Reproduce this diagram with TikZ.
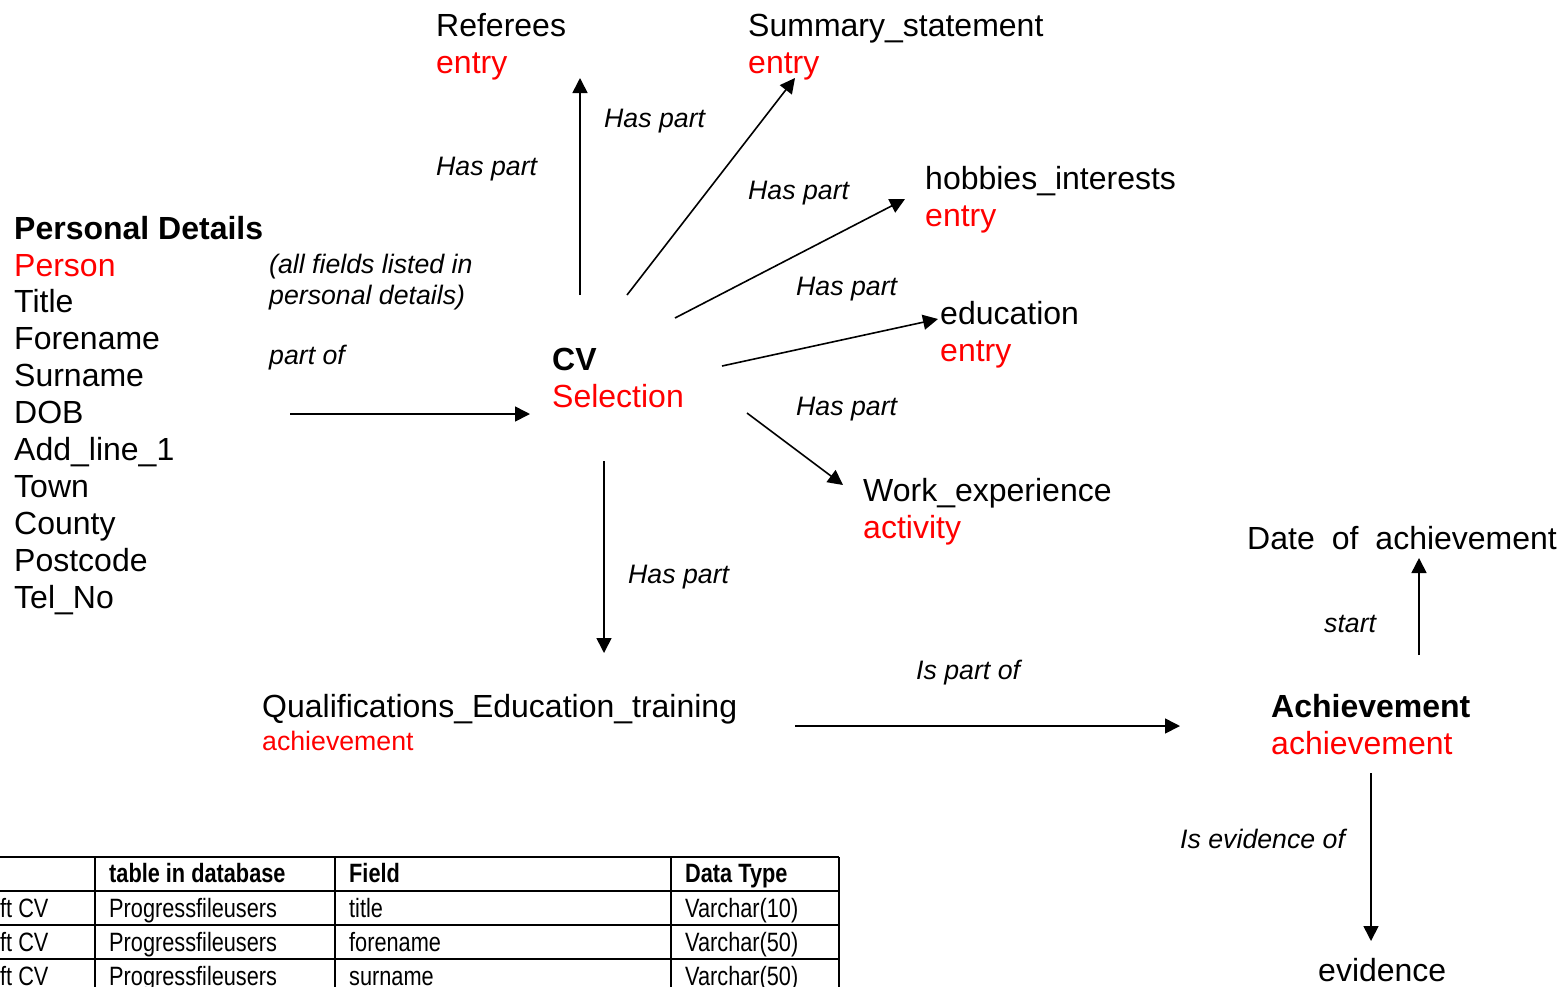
\documentclass[tikz,border=0pt]{standalone}
\usepackage{fontspec}
\setmainfont{Liberation Sans}
\newfontfamily\narrowfont[FakeStretch=0.82]{Liberation Sans}
\usetikzlibrary{arrows.meta}

\begin{document}
\begin{tikzpicture}
  [x=1pt,y=-1pt,
    every node/.style={inner sep=0pt,anchor=base west},
    lbl/.style={font=\fontsize{32}{37}\selectfont},
    head/.style={font=\fontsize{32}{37}\selectfont\bfseries},
    typ/.style={lbl,text=red},
    smalltyp/.style={font=\fontsize{26.7}{31}\selectfont,text=red},
    rel/.style={font=\fontsize{26.7}{31}\selectfont\itshape},
    cell/.style={font=\fontsize{26.5}{31}\selectfont\narrowfont},
    cellhead/.style={font=\fontsize{26.5}{31}\selectfont\narrowfont\bfseries},
    arr/.style={-{Triangle[length=15pt,width=15pt]},line width=1.6pt},
    grid/.style={line width=2pt},
  ]
  \useasboundingbox (0,0) rectangle (1568,986);

  % central entity
  \node[head] (cv) at (552,370) {CV};
  \node[typ] (cvt) at (552,407) {Selection};

  % parts of the CV
  \node[lbl] (ref) at (436,36) {Referees};
  \node[typ] (reft) at (436,73) {entry};
  \node[lbl] (sum) at (748,36) {Summary\_statement};
  \node[typ] (sumt) at (748,73) {entry};
  \node[lbl] (hob) at (925,189) {hobbies\_interests};
  \node[typ] (hobt) at (925,226) {entry};
  \node[lbl] (edu) at (940,324) {education};
  \node[typ] (edut) at (940,361) {entry};
  \node[lbl] (work) at (863,501) {Work\_experience};
  \node[typ] (workt) at (863,538) {activity};
  \node[lbl] (qual) at (262,717) {Qualifications\_Education\_training};
  \node[smalltyp] (qualt) at (262,750) {achievement};

  % personal details
  \node[head] (pd) at (14,239) {Personal Details};
  \node[typ] (pdt) at (14,276) {Person};
  \foreach \f [count=\i] in {Title,Forename,Surname,DOB,Add\_line\_1,Town,County,Postcode,Tel\_No}
    \node[lbl] (pd\i) at (14,276+36.9*\i) {\f};
  \node[rel] (pdnote1) at (269,273) {(all fields listed in};
  \node[rel] (pdnote2) at (269,304) {personal details)};
  \node[rel] (partof) at (269,364) {part of};

  % achievement
  \node[head] (ach) at (1271,717) {Achievement};
  \node[typ] (acht) at (1271,754) {achievement};
  \node[lbl] (date) at (1247,549) {Date\hspace{17pt}of\hspace{17pt}achievement};
  \node[lbl] (evid) at (1318,981) {evidence};

  % relation labels
  \node[rel] (hp1) at (436,175) {Has part};
  \node[rel] (hp2) at (604,127) {Has part};
  \node[rel] (hp3) at (748,199) {Has part};
  \node[rel] (hp4) at (796,295) {Has part};
  \node[rel] (hp5) at (796,415) {Has part};
  \node[rel] (hp6) at (628,583) {Has part};
  \node[rel] (ispart) at (916,679) {Is part of};
  \node[rel] (start) at (1324,632) {start};
  \node[rel] (isev) at (1180,848) {Is evidence of};

  % arrow ends
  \coordinate (cv-ref) at (580,295);   \coordinate (ref-in) at (580,78);
  \coordinate (cv-sum) at (627,295);   \coordinate (sum-in) at (795,78);
  \coordinate (cv-hob) at (675,318);   \coordinate (hob-in) at (905,199);
  \coordinate (cv-edu) at (722,366);   \coordinate (edu-in) at (938,319);
  \coordinate (cv-work) at (747,413);  \coordinate (work-in) at (843,485);
  \coordinate (cv-qual) at (604,461);  \coordinate (qual-in) at (604,653);
  \coordinate (pd-out) at (290,414);   \coordinate (cv-in) at (530,414);
  \coordinate (qual-out) at (795,726); \coordinate (ach-in) at (1180,726);
  \coordinate (ach-up) at (1419,655);  \coordinate (date-in) at (1419,558);
  \coordinate (ach-down) at (1371,773); \coordinate (evid-in) at (1371,941);

  \draw[arr] (cv-ref) -- (ref-in);
  \draw[arr] (cv-sum) -- (sum-in);
  \draw[arr] (cv-hob) -- (hob-in);
  \draw[arr] (cv-edu) -- (edu-in);
  \draw[arr] (cv-work) -- (work-in);
  \draw[arr] (cv-qual) -- (qual-in);
  \draw[arr] (pd-out) -- (cv-in);
  \draw[arr] (qual-out) -- (ach-in);
  \draw[arr] (ach-up) -- (date-in);
  \draw[arr] (ach-down) -- (evid-in);

  % table
  \foreach \y in {857,891,925,959}
    \draw[grid] (0,\y) -- (839,\y);
  \foreach \x in {95,335,671,839}
    \draw[grid] (\x,857) -- (\x,995);
  \node[cellhead] (th1) at (109,882) {table in database};
  \node[cellhead] (th2) at (349,882) {Field};
  \node[cellhead] (th3) at (685,882) {Data Type};
  \foreach \f/\t [count=\i] in {title/10,forename/50,surname/50} {
    \node[cell] (src\i) at (0,883+34*\i) {ft CV};
    \node[cell] (tab\i) at (109,883+34*\i) {Progressfileusers};
    \node[cell] (fld\i) at (349,883+34*\i) {\f};
    \node[cell] (typ\i) at (685,883+34*\i) {Varchar(\t)};
  }
\end{tikzpicture}
\end{document}
